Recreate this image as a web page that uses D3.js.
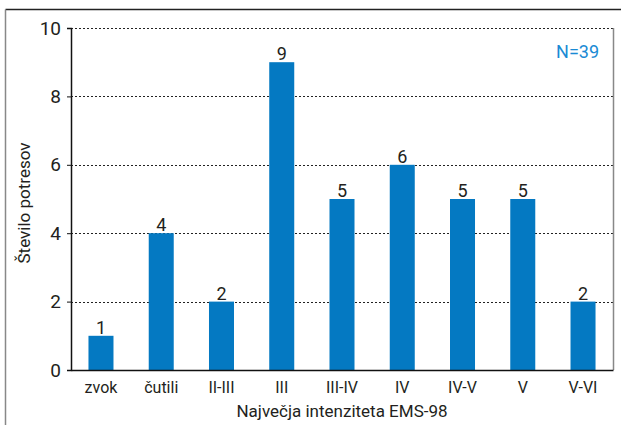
<!DOCTYPE html>
<meta charset="utf-8">
<head>
    <script src="https://d3js.org/d3.v7.min.js"></script>
    <title>Število potresov</title>
    <style>
        body { margin: 0; background: #fff; }
        text { font-family: Roboto, "DejaVu Sans Condensed", sans-serif; fill: #231f20; }
    </style>
</head>
<body>
    <svg width="621" height="425"></svg>
    <script>
        var categories = ["zvok", "čutili", "II-III", "III", "III-IV", "IV", "IV-V", "V", "V-VI"];
        var counts = [1, 4, 2, 9, 5, 6, 5, 5, 2];
        var yTicks = [0, 2, 4, 6, 8, 10];
        var totalLabel = "N=39";

        var svg = d3.select("svg"),
            width = +svg.attr("width"),
            height = +svg.attr("height");

        var margin = { left: 71, right: 8, top: 28, bottom: 55 };
        var plotW = width - margin.left - margin.right,
            plotH = height - margin.top - margin.bottom;

        // outer frame: top and left only
        svg.append("line").attr("x1", 5.5).attr("x2", width).attr("y1", 9.5).attr("y2", 9.5)
            .style("stroke", "#222").style("stroke-width", 1.5);
        svg.append("line").attr("x1", 5.5).attr("x2", 5.5).attr("y1", 9.5).attr("y2", height)
            .style("stroke", "#888").style("stroke-width", 1.5);

        var g = svg.append("g").attr("transform", "translate(" + margin.left + "," + margin.top + ")");

        var x = d3.scaleBand().domain(categories).range([0, plotW]).paddingInner(0.585).paddingOuter(0.29);
        var y = d3.scaleLinear().domain([0, 10]).range([plotH, 0]);

        // grid lines
        g.append("g").selectAll("line")
            .data(yTicks.filter(function (d) { return d > 0; }))
            .enter().append("line")
            .attr("x1", 0).attr("x2", plotW)
            .attr("y1", function (d) { return Math.round(y(d)) + 0.5; })
            .attr("y2", function (d) { return Math.round(y(d)) + 0.5; })
            .style("stroke", "#222").style("stroke-width", 1).style("stroke-dasharray", "2,2");

        // right edge
        g.append("line").attr("x1", plotW + 0.5).attr("x2", plotW + 0.5).attr("y1", 0).attr("y2", plotH)
            .style("stroke", "#888").style("stroke-width", 1.5);

        // bars
        g.append("g").selectAll("rect")
            .data(counts)
            .enter().append("rect")
            .attr("x", function (d, i) { return x(categories[i]); })
            .attr("width", x.bandwidth())
            .attr("y", function (d) { return y(d); })
            .attr("height", function (d) { return plotH - y(d); })
            .style("fill", "#0479c2");

        // value labels
        g.append("g").selectAll("text")
            .data(counts)
            .enter().append("text")
            .attr("x", function (d, i) { return x(categories[i]) + x.bandwidth() / 2; })
            .attr("y", function (d) { return y(d) - 2; })
            .attr("text-anchor", "middle")
            .style("font-size", "18px")
            .text(function (d) { return d; });

        // y axis
        var yAxis = g.append("g")
            .call(d3.axisLeft(y).tickValues(yTicks).tickSize(4).tickPadding(6));
        yAxis.select(".domain").style("stroke", "#111").style("stroke-width", 1.5);
        yAxis.selectAll(".tick line").style("stroke", "#111");
        yAxis.selectAll("text").style("font-size", "19px").style("font-family", null);

        // x axis
        var xAxis = g.append("g").attr("transform", "translate(0," + plotH + ")")
            .call(d3.axisBottom(x).tickSize(0).tickPadding(12));
        xAxis.select(".domain").style("stroke", "#111").style("stroke-width", 1.5);
        xAxis.selectAll("text").style("font-size", "16px").style("font-family", null);

        // axis titles
        svg.append("text")
            .attr("x", margin.left + plotW / 2).attr("y", 417)
            .attr("text-anchor", "middle")
            .style("font-size", "17px")
            .text("Največja intenziteta EMS-98");

        svg.append("text")
            .attr("transform", "translate(30," + (margin.top + plotH / 2 + 4) + ") rotate(-90)")
            .attr("text-anchor", "middle")
            .style("font-size", "17px")
            .text("Število potresov");

        g.append("text")
            .attr("x", plotW - 14).attr("y", 30)
            .attr("text-anchor", "end")
            .style("font-size", "18px")
            .style("fill", "#1a8ad4")
            .text(totalLabel);
    </script>
</body>
